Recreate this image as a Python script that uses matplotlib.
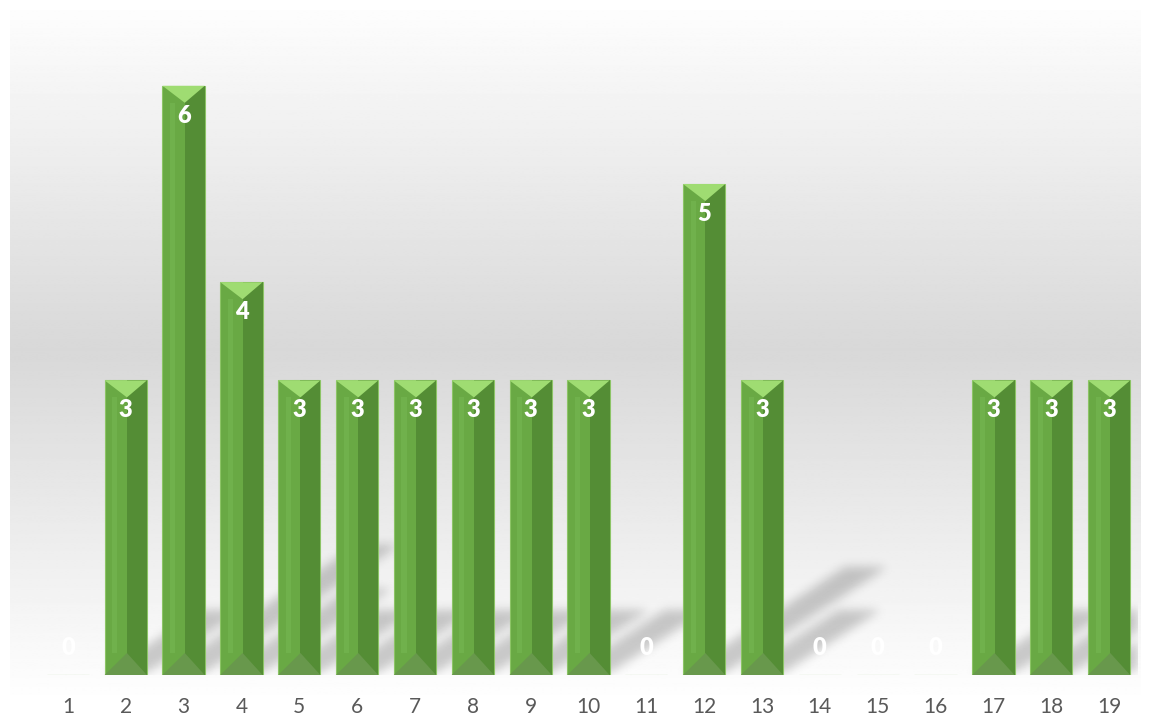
import numpy as np
import matplotlib
matplotlib.use("Agg")
import matplotlib.pyplot as plt
from matplotlib.path import Path

categories = [str(i) for i in range(1, 20)]
values = [0, 3, 6, 4, 3, 3, 3, 3, 3, 3, 0, 5, 3, 0, 0, 0, 3, 3, 3]

W, H, DPI = 1151, 719, 100
fig = plt.figure(figsize=(W / DPI, H / DPI), dpi=DPI)
fig.patch.set_facecolor("white")

# chart-area background gradient
bg = fig.add_axes([10 / W, (H - 705) / H, 1131 / W, 695 / H], zorder=0)
yy = np.linspace(0, 1, 400)  # 0 = top
mid = 340 / 695
g = np.where(yy < mid, 253 - (253 - 216) * yy / mid, 216 + (255 - 216) * (yy - mid) / (1 - mid)) / 255.0
bg.imshow(np.repeat(g[:, None], 2, axis=1), aspect="auto", cmap="gray", vmin=0, vmax=1,
          extent=[0, 1, 0, 1], origin="upper", interpolation="bilinear")
bg.axis("off")

# main axes
ax_left, ax_right, ax_base = 39, 1138, 675
ymax = 6.6
ppu = 98.2
ax_h = ymax * ppu
ax = fig.add_axes([ax_left / W, (H - ax_base) / H, (ax_right - ax_left) / W, ax_h / H], zorder=1)
ax.set_facecolor("none")
n = len(values)
ax.set_xlim(-0.5, n - 0.5)
ax.set_ylim(0, ymax)
for s in ax.spines.values():
    s.set_visible(False)
ax.set_yticks([])
ax.set_xticks(range(n))
ax.set_xticklabels(categories, fontsize=15, color="#595959", family=["Lato", "DejaVu Sans"])
ax.tick_params(axis="x", length=0, pad=16)

xppu = (ax_right - ax_left) / n  # pixels per category
w = 0.73

# shadows (raster, blurred)
nx, ny = int(ax_right - ax_left), int(ax_h)
gx = (np.arange(nx) + 0.5) / xppu - 0.5
gy = (np.arange(ny) + 0.5) / ppu
GX, GY = np.meshgrid(gx, gy)
pts = np.column_stack([GX.ravel(), GY.ravel()])
mask = np.zeros(GX.size)
for i, v in enumerate(values):
    if v <= 0:
        continue
    dx, dy = 0.56 * v, 0.22 * v
    x0, x1 = i - w / 2, i + w / 2
    poly = Path([(x0, 0.02), (x1, 0.02), (x1 + dx, dy), (x0 + dx, dy), (x0, 0.02)])
    mask = np.maximum(mask, poly.contains_points(pts).astype(float))
mask = mask.reshape(GX.shape)
sig = 5.0
k = np.arange(-15, 16)
ker = np.exp(-k ** 2 / (2 * sig ** 2)); ker /= ker.sum()
mask = np.apply_along_axis(lambda r: np.convolve(r, ker, mode="same"), 1, mask)
mask = np.apply_along_axis(lambda c: np.convolve(c, ker, mode="same"), 0, mask)
rgba = np.zeros(mask.shape + (4,))
rgba[..., 3] = mask * 0.2
ax.imshow(rgba, extent=[-0.5, n - 0.5, 0, ymax], origin="lower", aspect="auto", zorder=1,
          interpolation="bilinear")

# bars
left_c, right_c, top_c, bot_c, hl_c = "#69a944", "#548d35", "#9fdc72", "#68984c", "#70b14c"
bars = ax.bar(range(n), values, width=w, color=left_c, edgecolor="#8cc466", linewidth=0.8, zorder=2)
dt = 17 / ppu
db = 22 / ppu
for i, v in enumerate(values):
    if v <= 0:
        continue
    x0, x1, xc = i - w / 2, i + w / 2, i + 0.02
    ax.fill([xc, x1, x1, xc], [0, 0, v, v], color=right_c, lw=0, zorder=3)
    ax.fill([x0 + 0.18 * w, x0 + 0.3 * w, x0 + 0.3 * w, x0 + 0.18 * w], [db, db, v - dt, v - dt],
            color=hl_c, lw=0, zorder=3)
    ax.fill([x0, x1, xc], [v, v, v - dt], color=top_c, lw=0, zorder=4)
    ax.fill([x0, x1, xc], [0, 0, db], color=bot_c, lw=0, zorder=4)

# data labels
for i, v in enumerate(values):
    off = -30 if v > 0 else 27
    ax.annotate(str(v), (i, v), xytext=(0, off), textcoords="offset pixels", ha="center", va="center",
                fontsize=17, fontweight="heavy", color="white", family=["Lato", "DejaVu Sans"], zorder=5)

fig.savefig("out.png", dpi=DPI)
